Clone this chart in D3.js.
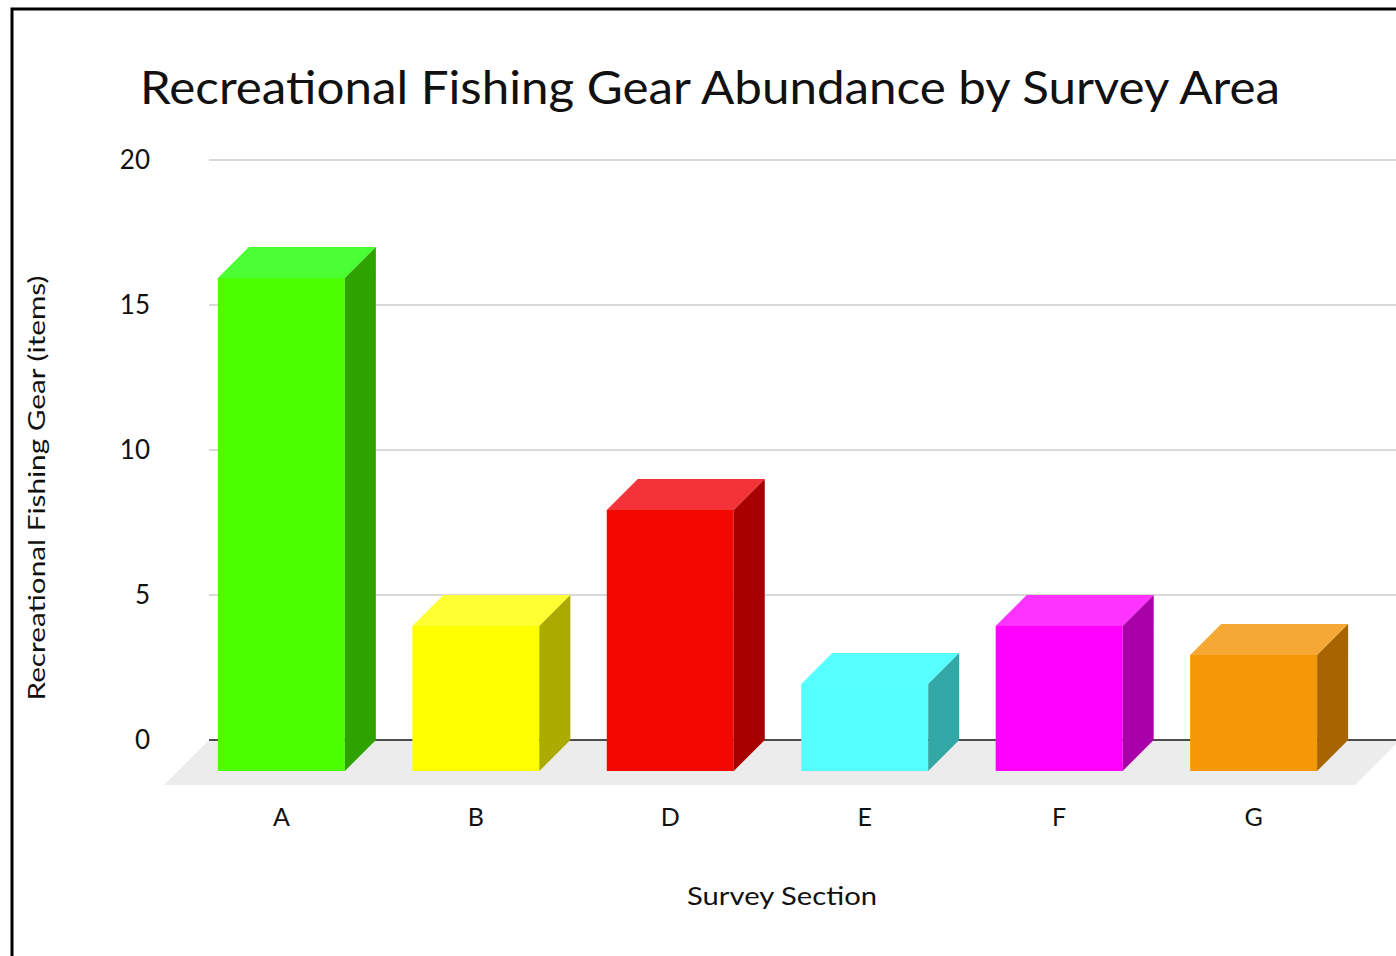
<!DOCTYPE html>
<meta charset="utf-8">
<style>
body { margin: 0; background: #fff; }
text { font-family: 'Lato', 'Open Sans', sans-serif; fill: #111; }
</style>
<body>
<svg width="1396" height="956"></svg>
<script src="https://cdn.jsdelivr.net/npm/d3@7"></script>
<script>

// data
var sections = ["A", "B", "D", "E", "F", "G"];
var gearCounts = [17, 5, 9, 3, 5, 4];
var frontColors = ["#4cff00", "#ffff00", "#f20800", "#55ffff", "#ff00ff", "#f59805"];
var topColors   = ["#4aff33", "#ffff33", "#f43338", "#57ffff", "#ff33ff", "#f5a833"];
var sideColors  = ["#2ea300", "#aaaa00", "#a80000", "#33a6a6", "#aa00aa", "#a86400"];
var yTicks = [0, 5, 10, 15, 20];

var svg = d3.select("svg");

var depth = 31,      // 3d offset of the bars
    floorDepth = 45; // 3d offset of the floor

var x = d3.scaleBand()
    .domain(sections)
    .range([179, 1356])
    .paddingInner(0.347)
    .paddingOuter(0.2);

var y = d3.scaleLinear()
    .domain([0, 20])
    .range([740, 160]);

var wallLeft = 209, wallRight = 1400;

// frame
svg.append("rect")
    .attr("x", 12).attr("y", 9)
    .attr("width", 1420).attr("height", 1000)
    .attr("fill", "none")
    .attr("stroke", "#000")
    .attr("stroke-width", 3);

// title
svg.append("text")
    .attr("x", 140).attr("y", 104)
    .attr("textLength", 1140)
    .attr("lengthAdjust", "spacingAndGlyphs")
    .style("font-size", "46px")
    .text("Recreational Fishing Gear Abundance by Survey Area");

// floor
svg.append("path")
    .attr("d", d3.line()([
      [wallLeft, y(0)], [wallRight, y(0)],
      [wallRight - floorDepth, y(0) + floorDepth], [wallLeft - floorDepth, y(0) + floorDepth]
    ]) + "Z")
    .attr("fill", "#ececec");

// gridlines
svg.append("g").selectAll("line")
    .data(yTicks.filter(function(d) { return d > 0; }))
    .join("line")
      .attr("x1", wallLeft).attr("x2", wallRight)
      .attr("y1", function(d) { return y(d); })
      .attr("y2", function(d) { return y(d); })
      .attr("stroke", "#d9d9d9")
      .attr("stroke-width", 2);

svg.append("line")
    .attr("x1", wallLeft).attr("x2", wallRight)
    .attr("y1", y(0)).attr("y2", y(0))
    .attr("stroke", "#4d4d4d")
    .attr("stroke-width", 2);

// y tick labels
svg.append("g").selectAll("text")
    .data(yTicks)
    .join("text")
      .attr("x", 150)
      .attr("y", function(d) { return y(d); })
      .attr("dy", "0.36em")
      .attr("text-anchor", "end")
      .style("font-size", "26px")
      .text(function(d) { return d; });

// bars
var bar = svg.append("g").selectAll("g")
    .data(sections)
    .join("g");

bar.each(function(s, i) {
  var g = d3.select(this),
      x0 = x(s), x1 = x(s) + x.bandwidth(),
      yTop = y(gearCounts[i]) + depth,
      yBot = y(0) + depth;

  g.append("rect")
      .attr("x", x0).attr("y", yTop)
      .attr("width", x.bandwidth()).attr("height", yBot - yTop)
      .attr("fill", frontColors[i]);

  g.append("path")
      .attr("d", d3.line()([[x0, yTop], [x0 + depth, yTop - depth], [x1 + depth, yTop - depth], [x1, yTop]]) + "Z")
      .attr("fill", topColors[i]);

  g.append("path")
      .attr("d", d3.line()([[x1, yTop], [x1 + depth, yTop - depth], [x1 + depth, yBot - depth], [x1, yBot]]) + "Z")
      .attr("fill", sideColors[i]);
});

// category labels
svg.append("g").selectAll("text")
    .data(sections)
    .join("text")
      .attr("x", function(d) { return x(d) + x.bandwidth() / 2; })
      .attr("y", 826)
      .attr("text-anchor", "middle")
      .style("font-size", "25px")
      .text(function(d) { return d; });

// axis titles
svg.append("text")
    .attr("x", 782).attr("y", 905)
    .attr("text-anchor", "middle")
    .attr("textLength", 190)
    .attr("lengthAdjust", "spacingAndGlyphs")
    .style("font-size", "25px")
    .text("Survey Section");

svg.append("text")
    .attr("transform", "translate(45,488) rotate(-90)")
    .attr("text-anchor", "middle")
    .attr("textLength", 425)
    .attr("lengthAdjust", "spacingAndGlyphs")
    .style("font-size", "24px")
    .text("Recreational Fishing Gear (items)");

</script>
